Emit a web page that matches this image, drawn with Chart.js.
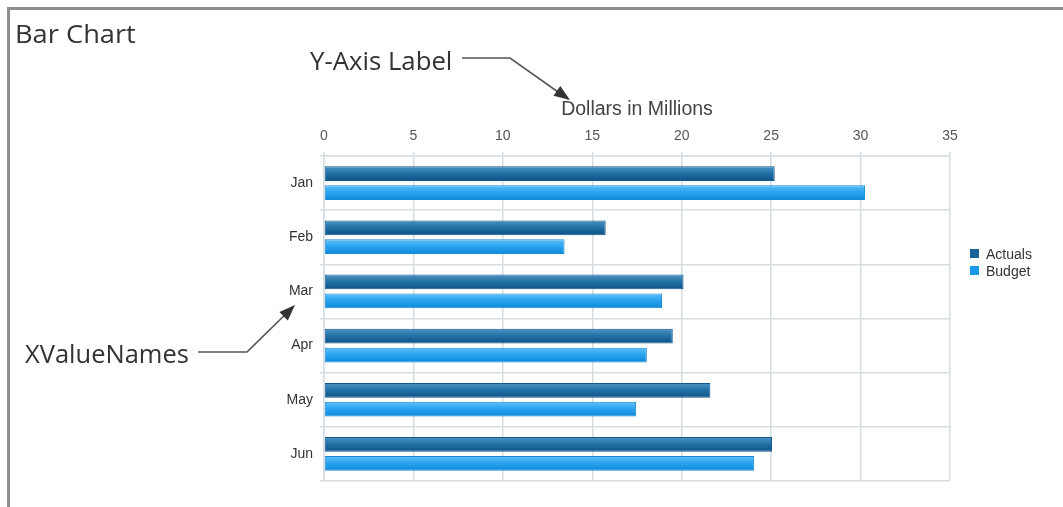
<!DOCTYPE html>
<html>
<head>
<meta charset="utf-8">
<script src="https://cdn.jsdelivr.net/npm/chart.js@4"></script>
<style>
  html, body { margin: 0; padding: 0; background: #fff; }
  #wrap { position: relative; width: 1063px; height: 507px; overflow: hidden; }
  #chart { position: absolute; left: 0; top: 0; }
  .frame { position: absolute; left: 7px; top: 7px; width: 1100px; height: 600px;
           border-top: 3px solid #8e8e8e; border-left: 3px solid #8e8e8e; }
  .note { position: absolute; font-family: "Open Sans", sans-serif; font-size: 25px; color: #333;
          line-height: 1; white-space: nowrap; transform-origin: left center; }
  #legend { position: absolute; left: 970px; top: 245px; font-family: "Liberation Sans", Arial, sans-serif;
            font-size: 14px; color: #333; }
  #legend div { height: 17px; display: flex; align-items: center; }
  #legend span.box { display: inline-block; width: 9px; height: 9px; margin-right: 7px; }
  svg { position: absolute; left: 0; top: 0; }
</style>
</head>
<body>
<div id="wrap">
  <canvas id="chart" width="1063" height="507"></canvas>
  <div class="frame"></div>
  <div class="note" style="left:15px; top:21px; transform: scaleX(1.09);">Bar Chart</div>
  <div class="note" style="left:310px; top:48px; transform: scaleX(1.03);">Y-Axis Label</div>
  <div class="note" style="left:25px; top:341px; transform: scaleX(1.02);">XValueNames</div>
  <svg width="1063" height="507">
    <polyline points="462,58 510,58 568,99" fill="none" stroke="#555" stroke-width="1.6"></polyline>
    <polygon points="570,100 553.5,95.7 560.3,85.9" fill="#333"></polygon>
    <polyline points="198,352 247,352 293,307" fill="none" stroke="#555" stroke-width="1.6"></polyline>
    <polygon points="295,305 287.8,320.5 279.4,311.9" fill="#333"></polygon>
  </svg>
  <div id="legend"></div>
</div>
<script>
const months = ['Jan', 'Feb', 'Mar', 'Apr', 'May', 'Jun'];
const actuals = [25.2, 15.75, 20.1, 19.5, 21.6, 25.05];
const budget = [30.25, 13.45, 18.9, 18.05, 17.45, 24.05];
const xTicks = [0, 5, 10, 15, 20, 25, 30, 35];

const categoryPct = 0.7;
const barPct = 0.78;

// vertical gradient across each bar's thickness
function barFill(stops, fallback) {
    return c => {
        const chart = c.chart;
        const y = chart.scales.y;
        if (!y || y.top === undefined || c.dataIndex === undefined) return fallback;
        const step = (y.bottom - y.top) / months.length;
        const slot = step * categoryPct / 2;
        const center = y.getPixelForValue(c.dataIndex) + (c.datasetIndex === 0 ? -slot / 2 : slot / 2);
        const half = slot * barPct / 2;
        const g = chart.ctx.createLinearGradient(0, center - half, 0, center + half);
        g.addColorStop(0, stops[0]);
        g.addColorStop(0.45, stops[1]);
        g.addColorStop(1, stops[2]);
        return g;
    };
}

const series = [
    { label: 'Actuals', data: actuals, color: '#1b6297', stops: ['#5194c4', '#2473a8', '#0c5186'], border: '#12598c' },
    { label: 'Budget', data: budget, color: '#1a98e8', stops: ['#62c0f8', '#2ba5f0', '#0b88d8'], border: '#1a8bd8' }
];

const gridColor = '#d6dee3';

new Chart(document.getElementById('chart'), {
    type: 'bar',
    data: {
        labels: months,
        datasets: series.map(s => ({
            label: s.label,
            data: s.data,
            backgroundColor: barFill(s.stops, s.color),
            borderColor: s.border,
            borderWidth: 1,
            borderSkipped: false,
            categoryPercentage: categoryPct,
            barPercentage: barPct
        }))
    },
    options: {
        indexAxis: 'y',
        responsive: false,
        animation: false,
        layout: { padding: { left: 264, top: 95, right: 113, bottom: 26 } },
        plugins: { legend: { display: false }, tooltip: { enabled: false } },
        scales: {
            x: {
                position: 'top',
                min: 0,
                max: 35,
                afterBuildTicks: scale => { scale.ticks = xTicks.map(v => ({ value: v })); },
                afterFit: scale => { scale.height = 61; },
                grid: { color: gridColor, tickLength: 4, lineWidth: 1.5 },
                border: { color: gridColor, width: 1.5 },
                ticks: { color: '#555', padding: 7, font: { family: 'Liberation Sans', size: 14 } },
                title: {
                    display: true,
                    text: 'Dollars in Millions',
                    color: '#444',
                    padding: { top: 3, bottom: 0 },
                    font: { family: 'Liberation Sans', size: 19.5 }
                }
            },
            y: {
                afterFit: scale => { scale.width = 60; },
                grid: { color: gridColor, tickLength: 4, lineWidth: 1.5 },
                border: { color: gridColor, width: 1.5 },
                ticks: { color: '#333', padding: 7, font: { family: 'Liberation Sans', size: 14 } }
            }
        }
    }
});

// html legend built from the series
const legend = document.getElementById('legend');
series.forEach(s => {
    const row = document.createElement('div');
    row.innerHTML = '<span class="box" style="background:' + s.color + '"></span>' + s.label;
    legend.appendChild(row);
});
</script>
</body>
</html>
